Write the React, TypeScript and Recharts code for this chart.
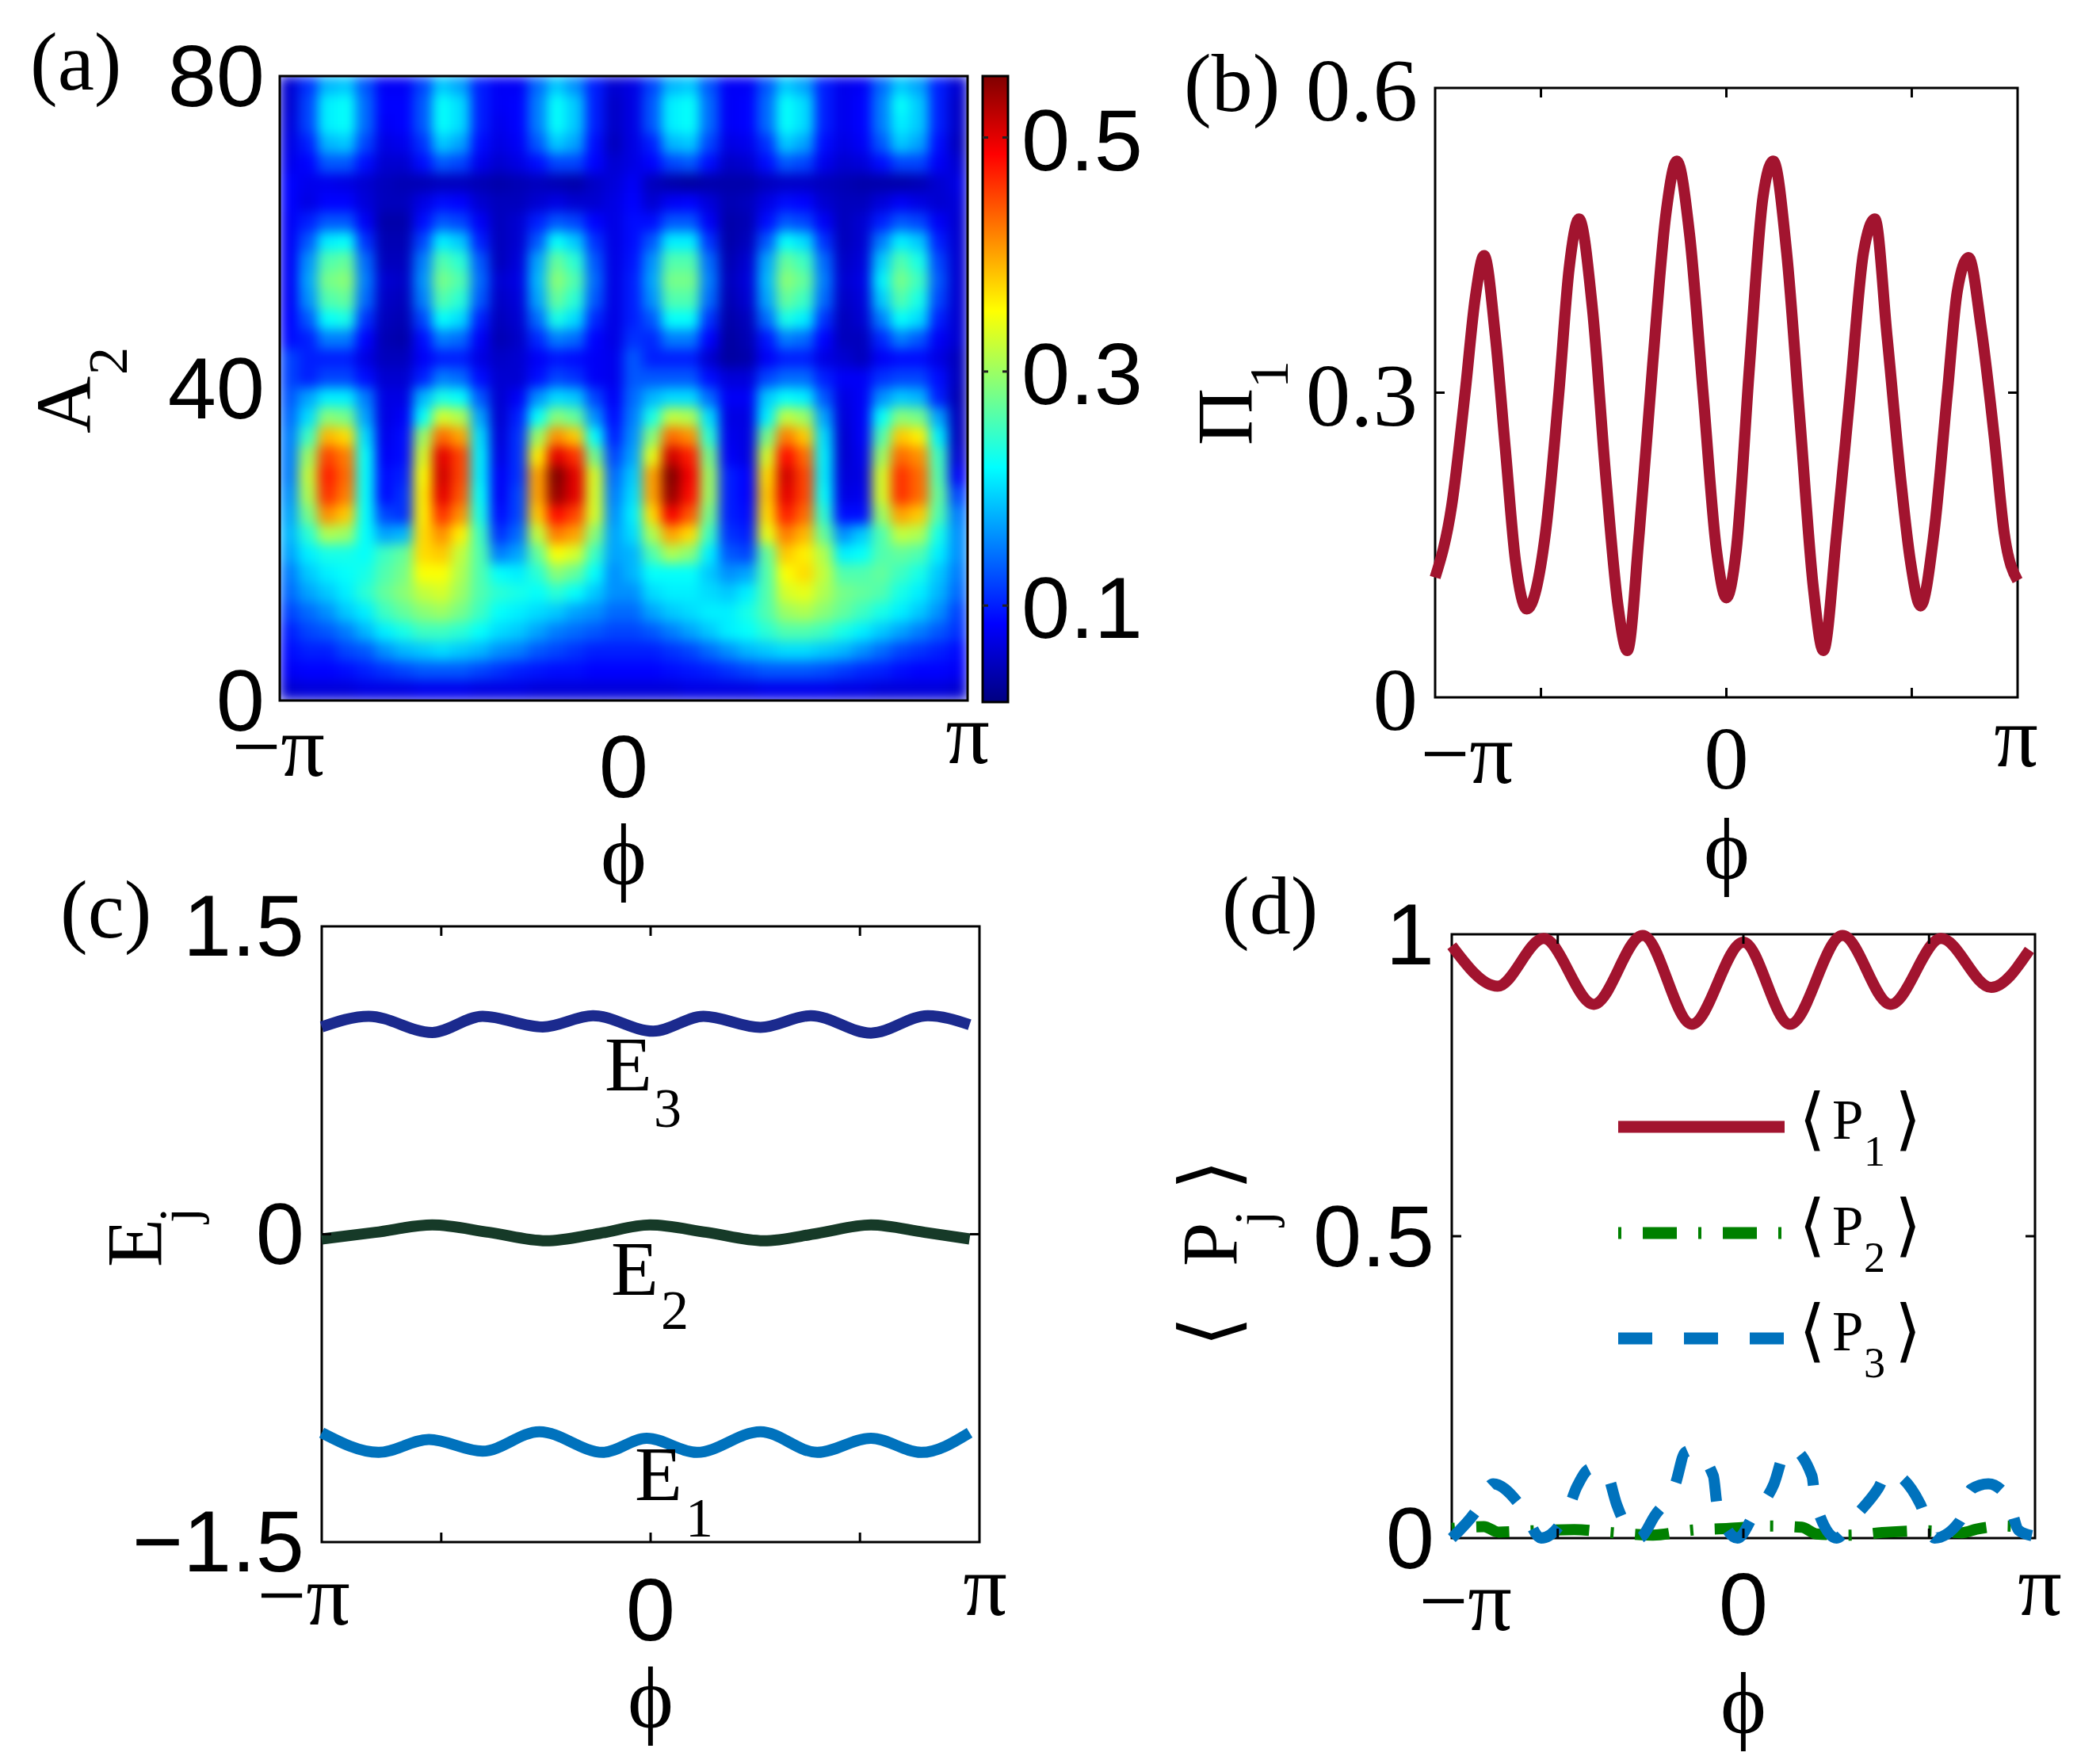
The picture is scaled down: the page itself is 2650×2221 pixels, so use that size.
import React from "react";
import { ScatterChart, Scatter, LineChart, Line, ComposedChart, Bar, XAxis, YAxis, ReferenceArea } from "recharts";

const W = 2650;
const H = 2221;
const SANS = '"Liberation Sans", Arial, Helvetica, sans-serif';
const SERIF = '"Liberation Serif", "Times New Roman", "DejaVu Serif", serif';
const GLYPH = '"DejaVu Serif", "DejaVu Sans", serif';
const INK = "#000";

// ---------- (a) heat map: A2 (0..80) vs phi (-pi..pi), values x100 ----------
const heatVmin = 0.0175;
const heatVmax = 0.5525;
const heatBarTicks = [0.1, 0.3, 0.5];
const heatA2Ticks = [0, 40, 80];
// 32 rows from A2 = 80 (top) down to 0, 36 columns from -pi to pi
const heatRowsPct: number[][] = [
  [6, 11, 18, 19, 13, 8, 8, 12, 19, 17, 10, 8, 8, 14, 19, 16, 10, 6, 7, 12, 18, 19, 13, 8, 8, 13, 19, 17, 10, 7.5, 8, 14, 19, 17, 10, 6],
  [6, 12, 21, 22, 14, 8.5, 8.5, 13, 22, 20, 10, 8, 8.5, 15, 22, 19, 10, 5.5, 7, 13, 21, 22, 14, 8, 8.5, 14, 22, 20, 10, 7.5, 8.5, 15, 22, 19, 10, 5.5],
  [6.5, 12, 21, 22, 14, 8, 8.5, 13, 22, 20, 10, 7.5, 8.5, 15, 22, 19, 10, 5.5, 7, 13, 21, 22, 14, 8, 8.5, 14, 22, 20, 10, 7.5, 8.5, 15, 21, 19, 10, 5.5],
  [7, 10, 18, 19, 12, 7, 7.5, 11, 19, 17, 9, 7, 8, 13, 19, 17, 9, 5, 7, 10, 18, 19, 12, 7, 7.5, 11, 19, 17, 9, 7, 8, 13, 19, 17, 9, 5],
  [7.5, 8.5, 13, 13, 9, 6, 6, 9, 13, 12, 7.5, 6, 7, 9, 12, 12, 8.5, 6, 7, 8.5, 12, 13, 9, 5.5, 6, 9, 13, 12, 7.5, 6, 6.5, 9, 12, 12, 8, 6],
  [8.5, 7.5, 7.5, 7, 6, 5, 4.5, 4.5, 5, 5, 4.5, 4, 4.5, 5, 4.5, 4, 5.5, 6.5, 8, 5, 4, 3.5, 4, 4, 4, 5, 5.5, 5.5, 5, 4.5, 4, 4, 4, 4.5, 6, 7],
  [8.5, 7, 8.5, 8.5, 6.5, 5, 5, 7, 9, 8.5, 6, 5, 5, 6, 7, 6, 6, 7, 8.5, 6, 8, 8.5, 6.5, 4.5, 5, 7, 9, 8.5, 6, 5, 5, 6.5, 8, 7, 6, 6.5],
  [8, 10, 13, 13, 8, 4, 4, 9, 13, 12, 8, 5, 6, 10, 13, 12, 8.5, 7, 9, 9, 13, 13, 8, 4, 4.5, 9, 13, 12, 8, 5, 6, 10, 13, 12, 8, 6],
  [8, 13, 21, 22, 11, 4.5, 4.5, 12, 21, 19, 10, 5, 6, 13, 22, 19, 11, 7, 9, 13, 21, 21, 11, 4, 5, 13, 22, 20, 11, 5, 6, 15, 21, 19, 10, 6],
  [8, 16, 26, 27, 14, 5, 5, 15, 26, 24, 13, 5, 6.5, 17, 27, 24, 13, 7, 9.5, 16, 26, 26, 14, 4.5, 6, 17, 27, 25, 14, 5.5, 6.5, 19, 26, 23, 12, 6],
  [8, 17, 28, 29, 15, 6, 5.5, 16, 28, 26, 14, 6, 7, 18, 29, 26, 14, 7, 10, 17, 28, 28, 15, 5, 6.5, 18, 29, 27, 15, 6, 7, 21, 28, 25, 13, 6],
  [8, 16, 26, 27, 14, 5.5, 5, 15, 26, 24, 13, 5.5, 6.5, 17, 27, 24, 13, 7, 10, 16, 26, 26, 14, 4.5, 6, 17, 27, 25, 14, 5.5, 6.5, 19, 26, 23, 12, 6],
  [8.5, 13, 22, 23, 11, 5, 4.5, 12, 22, 20, 10, 5, 6, 14, 23, 20, 10.5, 7, 10, 13, 22, 22, 11, 4, 5, 14, 23, 21, 11, 5, 6, 15, 22, 20, 10, 6],
  [9, 10, 15, 15, 8.5, 4.5, 4, 9, 15, 14, 8, 4.5, 5.5, 10.5, 15, 14, 8.5, 7, 11, 10.5, 15, 15, 8.5, 3.5, 4.5, 9.5, 15, 14, 8.5, 5, 5, 10.5, 15, 13, 8, 6],
  [12, 10, 10, 10, 7, 5, 5, 8, 10, 10, 7, 5.5, 6, 8, 9.5, 9, 8, 7.5, 13, 10, 10, 10, 6, 3.5, 4, 8, 10, 10, 7, 6, 5, 8, 9, 9, 7, 5],
  [12, 10, 12, 12, 9, 6, 6, 10, 15, 14, 9, 6, 6, 9, 12, 11, 8, 7.5, 13, 13, 13, 13, 9, 6.5, 6.5, 12, 14, 14, 10, 8, 8, 11, 12, 12, 9, 5],
  [13, 17, 21, 21, 15, 7, 7, 18, 23, 22, 13, 6, 8, 16, 20, 19, 12, 8, 14, 18, 20, 20, 14, 8, 8, 19, 22, 21, 13, 7, 8, 16, 19, 18, 10, 4.5],
  [14, 20, 29, 28, 17, 7, 8, 22, 33, 31, 17, 6, 10, 22, 29, 27, 16, 9, 15, 23, 32, 31, 20, 7, 7, 21, 32, 30, 17, 6.5, 8, 22, 29, 28, 17, 5],
  [15, 25, 39, 37, 20, 7.5, 9, 30, 43, 40, 20, 6.5, 11, 30, 41, 38, 22, 10, 16, 29, 43, 41, 24, 7.5, 7, 28, 42, 38, 20, 6, 8, 26, 38, 36, 21, 5],
  [15, 30, 45, 42, 22, 8, 9, 33, 50, 45, 21, 7, 11, 36, 50, 46, 28, 12, 17, 34, 51, 47, 28, 8, 7, 33, 48, 43, 21, 6, 7.5, 30, 43, 41, 25, 6],
  [15, 32, 47, 43, 22, 9, 10, 35, 51, 45, 21, 8, 11, 40, 55, 50, 33, 14, 19, 40, 55, 49, 30, 10, 8.5, 37, 51, 45, 21, 6.5, 7, 33, 46, 43, 26, 8],
  [16, 31, 46, 42, 22, 9, 11, 36, 50, 44, 22, 8, 12, 40, 54, 50, 33, 15, 20, 40, 54, 48, 30, 10, 8.5, 38, 50, 45, 22, 7, 7.5, 33, 46, 43, 27, 12],
  [17, 28, 41, 38, 22, 12, 11, 36, 46, 41, 23, 9, 12, 38, 48, 45, 33, 16, 21, 37, 49, 44, 28, 10, 9, 37, 47, 43, 24, 9, 9, 30, 40, 38, 26, 15],
  [18, 24, 31, 30, 22, 17, 18, 37, 41, 36, 25, 11, 14, 32, 42, 40, 29, 17, 20, 31, 40, 37, 25, 11, 10, 34, 42, 39, 27, 16, 19, 26, 32, 31, 23, 16],
  [17, 21, 23, 23, 22, 25, 27, 37, 38, 32, 26, 15, 17, 27, 35, 33, 25, 17, 18, 26, 31, 29, 21, 13, 12, 27, 38, 36, 31, 21, 22, 26, 27, 26, 21, 16],
  [15, 19, 21, 22, 23, 26, 28, 35, 35, 31, 26, 22, 21, 24, 29, 27, 22, 16, 18, 22, 22, 22, 19, 16, 17, 26, 35, 37, 32, 26, 26, 27, 25, 23, 19, 15],
  [14, 17, 19, 21, 24, 27, 29, 32, 33, 30, 26, 24, 23, 22, 24, 22, 19, 16, 16, 20, 21, 21, 20, 19, 21, 26, 33, 34, 31, 28, 27, 26, 23, 21, 18, 14],
  [12, 14, 16, 19, 21, 25, 27, 29, 30, 28, 25, 22, 21, 20, 19, 17, 16, 14, 14, 17, 19, 20, 21, 21, 23, 26, 30, 31, 29, 27, 25, 23, 21, 19, 16, 12],
  [10, 12, 13, 15, 18, 21, 23, 25, 25, 24, 22, 20, 19, 17, 15, 14, 13, 12, 12, 13, 15, 17, 19, 21, 22, 24, 26, 26, 25, 23, 21, 19, 17, 15, 13, 11],
  [9, 10, 10, 12, 13, 16, 18, 19, 20, 19, 18, 16, 15, 13, 12, 11, 10, 10, 10, 10, 11, 12, 14, 16, 18, 19, 20, 20, 19, 18, 16, 14, 12, 11, 10, 9],
  [8, 8.5, 8.5, 9, 10, 11, 12, 13, 13, 13, 12, 11, 10, 9.5, 9, 9, 8.5, 8.5, 8.5, 8.5, 9, 9.5, 10, 11, 12, 13, 13, 13, 12.5, 11.5, 10.5, 10, 9, 8.5, 8.5, 8],
  [6, 6.5, 6.5, 6.5, 7, 7, 7, 7.5, 7.5, 7.5, 7, 7, 7, 6.5, 6.5, 6.5, 6.5, 6.5, 6.5, 6.5, 6.5, 7, 7, 7, 7, 7.5, 7.5, 7.5, 7.5, 7, 7, 6.5, 6.5, 6.5, 6.5, 6],
];

// ---------- (b) Pi_1 vs phi (phi in units of pi) ----------
const piPhi = [-1, -0.943, -0.897, -0.862, -0.832, -0.793, -0.759, -0.724, -0.685, -0.621, -0.575, -0.54, -0.506, -0.46, -0.414, -0.372, -0.34, -0.299, -0.253, -0.207, -0.17, -0.126, -0.08, -0.034, 0, 0.034, 0.08, 0.126, 0.161, 0.207, 0.253, 0.299, 0.333, 0.379, 0.425, 0.471, 0.51, 0.552, 0.598, 0.632, 0.667, 0.713, 0.759, 0.793, 0.832, 0.874, 0.92, 0.954, 1];
const piVal = [0.118, 0.189, 0.3, 0.394, 0.435, 0.355, 0.245, 0.134, 0.087, 0.162, 0.3, 0.422, 0.471, 0.383, 0.217, 0.09, 0.046, 0.162, 0.328, 0.477, 0.528, 0.455, 0.3, 0.145, 0.098, 0.145, 0.328, 0.493, 0.528, 0.438, 0.272, 0.107, 0.046, 0.162, 0.3, 0.438, 0.471, 0.355, 0.217, 0.134, 0.09, 0.162, 0.3, 0.4, 0.433, 0.366, 0.256, 0.162, 0.115];

// ---------- (c) E_j vs phi ----------
const e3Phi = [-1, -0.857, -0.664, -0.511, -0.328, -0.175, 0.008, 0.161, 0.334, 0.487, 0.67, 0.843, 0.97];
const e3Val = [1.01, 1.062, 0.983, 1.062, 1.01, 1.065, 0.989, 1.062, 1.008, 1.065, 0.98, 1.065, 1.021];
const e2Phi = [-1, -0.837, -0.664, -0.491, -0.318, -0.155, -0.002, 0.171, 0.344, 0.507, 0.67, 0.833, 0.97];
const e2Val = [-0.023, 0.009, 0.045, 0.009, -0.032, 0.004, 0.045, 0.009, -0.032, 0.004, 0.045, 0.009, -0.023];
const e1Phi = [-1, -0.827, -0.674, -0.511, -0.338, -0.145, -0.012, 0.141, 0.334, 0.507, 0.67, 0.823, 0.97];
const e1Val = [-0.967, -1.063, -1.0, -1.057, -0.962, -1.063, -0.994, -1.063, -0.962, -1.063, -0.994, -1.063, -0.967];

// ---------- (d) <P_j> vs phi ----------
const p1Phi = [-1, -0.843, -0.685, -0.513, -0.345, -0.177, 0, 0.16, 0.34, 0.505, 0.678, 0.85, 0.981];
const p1Val = [0.981, 0.914, 0.993, 0.884, 0.998, 0.851, 0.987, 0.851, 0.998, 0.884, 0.993, 0.912, 0.974];
const p2Phi = [-1, -0.89, -0.84, -0.73, -0.58, -0.45, -0.31, -0.18, -0.05, 0.09, 0.2, 0.25, 0.36, 0.5, 0.63, 0.75, 0.8, 0.9, 0.98];
const p2Val = [0.016, 0.019, 0.01, 0.012, 0.014, 0.009, 0.005, 0.013, 0.016, 0.02, 0.018, 0.007, 0.005, 0.01, 0.012, 0.009, 0.015, 0.02, 0.016];
const p3Phi = [-1, -0.921, -0.858, -0.759, -0.694, -0.609, -0.571, -0.525, -0.486, -0.467, -0.434, -0.358, -0.304, -0.233, -0.2, -0.174, -0.103, -0.09, -0.02, 0.034, 0.105, 0.145, 0.164, 0.235, 0.248, 0.32, 0.378, 0.463, 0.495, 0.521, 0.606, 0.655, 0.742, 0.781, 0.84, 0.905, 0.944, 0.989];
const p3Val = [0, 0.042, 0.09, 0.05, 0, 0.038, 0.085, 0.115, 0.116, 0.107, 0.055, 0, 0.037, 0.09, 0.142, 0.146, 0.103, 0.055, 0, 0.037, 0.09, 0.145, 0.148, 0.103, 0.057, 0, 0.033, 0.083, 0.11, 0.107, 0.057, 0, 0.028, 0.081, 0.09, 0.068, 0.013, 0.004];

const phiTicks = [-1, -2 / Math.PI, 0, 2 / Math.PI, 1];

type Box = { left: number; top: number; right: number; bottom: number };
const boxA: Box = { left: 353, top: 96, right: 1221, bottom: 884 };
const boxBar: Box = { left: 1240, top: 96, right: 1272, bottom: 886 };
const boxB: Box = { left: 1811, top: 111, right: 2546, bottom: 880 };
const boxC: Box = { left: 406, top: 1169, right: 1236, bottom: 1946 };
const boxD: Box = { left: 1832, top: 1179, right: 2568, bottom: 1941 };
// axes are 1px thick (a zero sized axis is not drawn), so margins give back that pixel
const marginOf = (b: Box) => ({ left: b.left - 1, top: b.top, right: W - b.right, bottom: H - b.bottom - 1 });

const zip = (phi: number[], val: number[]) => phi.map((p, i) => ({ phi: p, v: val[i] }));

const HEAT_ROWS = heatRowsPct.length;
const HEAT_COLS = heatRowsPct[0].length;
const heatData = heatRowsPct.flatMap((row, r) =>
  row.map((pct, c) => ({
    phi: -1 + ((c + 0.5) * 2) / HEAT_COLS,
    a2: 80 - ((r + 0.5) * 80) / HEAT_ROWS,
    value: pct / 100,
  }))
);
const cellW = (boxA.right - boxA.left) / HEAT_COLS;
const cellH = (boxA.bottom - boxA.top) / HEAT_ROWS;

function jet(v: number) {
  const t = Math.min(1, Math.max(0, (v - heatVmin) / (heatVmax - heatVmin)));
  const ch = (k: number) => Math.round(255 * Math.min(1, Math.max(0, 1.5 - Math.abs(4 * t - k))));
  return `rgb(${ch(3)},${ch(2)},${ch(1)})`;
}

const HeatCell = (props: any) => {
  const { cx, cy, payload } = props;
  return (
    <rect
      x={cx - cellW / 2 - 0.6}
      y={cy - cellH / 2 - 0.6}
      width={cellW + 1.2}
      height={cellH + 1.2}
      fill={jet(payload.value)}
    />
  );
};

const seriesC = [
  { key: "E3", data: zip(e3Phi, e3Val), color: "#1B2A8E" },
  { key: "E2", data: zip(e2Phi, e2Val), color: "#163A28" },
  { key: "E1", data: zip(e1Phi, e1Val), color: "#0072BD" },
];
const seriesD = [
  { key: "P1", sub: "1", data: zip(p1Phi, p1Val), color: "#A2142F", dash: undefined as string | undefined },
  { key: "P2", sub: "2", data: zip(p2Phi, p2Val), color: "#008000", dash: "4 27 43 27" },
  { key: "P3", sub: "3", data: zip(p3Phi, p3Val), color: "#0072BD", dash: "43 40" },
];

type Lab = { at: number; text: string; font: string; size: number; dx: number; dy: number };
const near = (a: number, b: number) => Math.abs(a - b) < 1e-6;

function makeBottomTick(box: Box, labels: Lab[], marks: number[]) {
  const h = box.bottom - box.top;
  return (props: any) => {
    const { x, y, payload } = props;
    const v = payload?.value;
    const lab = labels.find((l) => near(l.at, v));
    const mark = marks.some((m) => near(m, v));
    return (
      <g>
        {mark && <line x1={x} x2={x} y1={y} y2={y - 12} stroke={INK} strokeWidth={3} />}
        {mark && <line x1={x} x2={x} y1={y - h} y2={y - h + 12} stroke={INK} strokeWidth={3} />}
        {lab && (
          <text x={x + lab.dx} y={y + lab.dy} textAnchor="middle" fontFamily={lab.font} fontSize={lab.size} fill={INK}>
            {lab.text}
          </text>
        )}
      </g>
    );
  };
}

function makeLeftTick(box: Box, labels: { at: number; text: string }[], font: string, size: number, gap: number, dy: number, marks: number[]) {
  const w = box.right - box.left;
  return (props: any) => {
    const { x, y, payload } = props;
    const v = payload?.value;
    const lab = labels.find((l) => near(l.at, v));
    const mark = marks.some((m) => near(m, v));
    return (
      <g>
        {mark && <line x1={x} x2={x + 12} y1={y} y2={y} stroke={INK} strokeWidth={3} />}
        {mark && <line x1={x + w} x2={x + w - 12} y1={y} y2={y} stroke={INK} strokeWidth={3} />}
        {lab && (
          <text x={x - gap} y={y + dy} textAnchor="end" fontFamily={font} fontSize={size} fill={INK}>
            {lab.text}
          </text>
        )}
      </g>
    );
  };
}

const BarTick = (props: any) => {
  const { x, y, payload } = props;
  const w = boxBar.right - boxBar.left;
  return (
    <g>
      <line x1={x} x2={x - 7} y1={y} y2={y} stroke="#222" strokeWidth={3} />
      <line x1={x - w} x2={x - w + 7} y1={y} y2={y} stroke="#222" strokeWidth={3} />
      <text x={x + 17} y={y + 41} textAnchor="start" fontFamily={SANS} fontSize={110} fill={INK}>
        {String(payload.value)}
      </text>
    </g>
  );
};

const PI_MARKS = [-2 / Math.PI, 0, 2 / Math.PI];

const tickA = makeBottomTick(boxA, [
  { at: -1, text: "−π", font: SERIF, size: 110, dx: -2, dy: 95 },
  { at: 0, text: "0", font: SANS, size: 112, dx: 0, dy: 122 },
  { at: 1, text: "π", font: SERIF, size: 110, dx: 0, dy: 79 },
], []);
const tickB = makeBottomTick(boxB, [
  { at: -1, text: "−π", font: SERIF, size: 110, dx: 40, dy: 108 },
  { at: 0, text: "0", font: SERIF, size: 113, dx: 0, dy: 115 },
  { at: 1, text: "π", font: SERIF, size: 110, dx: -2, dy: 87 },
], PI_MARKS);
const tickC = makeBottomTick(boxC, [
  { at: -1, text: "−π", font: SERIF, size: 110, dx: -23, dy: 104 },
  { at: 0, text: "0", font: SANS, size: 112, dx: 0, dy: 124 },
  { at: 1, text: "π", font: SERIF, size: 110, dx: 7, dy: 92 },
], PI_MARKS);
const tickD = makeBottomTick(boxD, [
  { at: -1, text: "−π", font: SERIF, size: 110, dx: 17, dy: 116 },
  { at: 0, text: "0", font: SANS, size: 112, dx: 0, dy: 122 },
  { at: 1, text: "π", font: SERIF, size: 110, dx: 6, dy: 97 },
], PI_MARKS);

const yTickA = makeLeftTick(boxA, [{ at: 0, text: "0" }, { at: 40, text: "40" }, { at: 80, text: "80" }], SANS, 110, 19, 38, []);
const yTickB = makeLeftTick(boxB, [{ at: 0, text: "0" }, { at: 0.3, text: "0.3" }, { at: 0.6, text: "0.6" }], SERIF, 113, 22, 41, [0.3]);
const yTickC = makeLeftTick(boxC, [{ at: -1.5, text: "−1.5" }, { at: 0, text: "0" }, { at: 1.5, text: "1.5" }], SANS, 110, 22, 37, [0]);
const yTickD = makeLeftTick(boxD, [{ at: 0, text: "0" }, { at: 0.5, text: "0.5" }, { at: 1, text: "1" }], SANS, 110, 22, 38, [0.5]);

const layer: React.CSSProperties = { position: "absolute", left: 0, top: 0 };
const frame = { fill: "none", stroke: INK, strokeWidth: 3 };
const axisCommon = { interval: 0 as const, tickSize: 0, tickMargin: 0, axisLine: false, tickLine: false };

function RotLabel({ x, y, parts }: { x: number; y: number; parts: { t: string; at: number; sub?: boolean; font?: string }[] }) {
  return (
    <text transform={`translate(${x},${y}) rotate(-90)`} fill={INK}>
      {parts.map((p, i) => (
        <tspan key={i} x={p.at} y={p.sub ? 46 : 0} fontSize={p.sub ? 70 : 100} fontFamily={p.font ?? SERIF}>
          {p.t}
        </tspan>
      ))}
    </text>
  );
}

function SubLabel({ x, y, main, sub, sx, sy }: { x: number; y: number; main: string; sub: string; sx: number; sy: number }) {
  return (
    <text fill={INK} fontFamily={SERIF}>
      <tspan x={x} y={y} fontSize={98}>{main}</tspan>
      <tspan x={sx} y={sy} fontSize={70}>{sub}</tspan>
    </text>
  );
}

const legendLineY = [1422, 1556, 1689];
const legendTextY = [1437, 1571, 1704];

export default function App() {
  const barStops = [0, 0.125, 0.375, 0.625, 0.875, 1];
  return (
    <div style={{ position: "absolute", left: 0, top: 0, width: W, height: H, background: "#fff", overflow: "hidden" }}>
      <style>{`.heat-chart .recharts-scatter { filter: url(#heatBlur); }`}</style>
      <svg width={1} height={1} style={{ position: "absolute", left: 0, top: 0 }}>
        <defs>
          <linearGradient id="jetBar" x1="0" y1="1" x2="0" y2="0">
            {barStops.map((t) => (
              <stop key={t} offset={t} stopColor={jet(heatVmin + t * (heatVmax - heatVmin))} />
            ))}
          </linearGradient>
          <filter id="heatBlur" x="0" y="0" width="1" height="1" colorInterpolationFilters="sRGB">
            <feGaussianBlur stdDeviation={7.5} edgeMode="duplicate" />
          </filter>
        </defs>
      </svg>

      {/* (a) heat map */}
      <div style={layer} className="heat-chart">
        <ScatterChart width={W} height={H} margin={marginOf(boxA)}>
          <XAxis type="number" dataKey="phi" domain={[-1, 1]} ticks={[-1, 0, 1]} height={1} {...axisCommon} tick={tickA} />
          <YAxis type="number" dataKey="a2" domain={[0, 80]} ticks={heatA2Ticks} width={1} {...axisCommon} tick={yTickA} />
          <Scatter data={heatData} shape={HeatCell} isAnimationActive={false} />
        </ScatterChart>
      </div>

      {/* (a) colour bar */}
      <div style={layer}>
        <ComposedChart
          width={W}
          height={H}
          margin={{ left: boxBar.left, top: boxBar.top, right: W - boxBar.right - 1, bottom: H - boxBar.bottom }}
          data={[{ name: "scale", top: heatVmax }]}
          barCategoryGap={0}
        >
          <XAxis type="category" dataKey="name" hide />
          <YAxis type="number" orientation="right" domain={[heatVmin, heatVmax]} ticks={heatBarTicks} width={1} {...axisCommon} tick={BarTick} />
          <Bar dataKey="top" fill="url(#jetBar)" stroke={INK} strokeWidth={3} isAnimationActive={false} />
        </ComposedChart>
      </div>

      {/* (b) Pi_1 */}
      <div style={layer}>
        <LineChart width={W} height={H} margin={marginOf(boxB)}>
          <XAxis type="number" dataKey="phi" domain={[-1, 1]} ticks={phiTicks} height={1} {...axisCommon} tick={tickB} />
          <YAxis type="number" domain={[0, 0.6]} ticks={[0, 0.3, 0.6]} width={1} {...axisCommon} tick={yTickB} />
          <ReferenceArea x1={-1} x2={1} y1={0} y2={0.6} {...frame} />
          <Line data={zip(piPhi, piVal)} dataKey="v" type="monotone" stroke="#A2142F" strokeWidth={14} strokeLinejoin="round" dot={false} activeDot={false} isAnimationActive={false} />
        </LineChart>
      </div>

      {/* (c) E_j */}
      <div style={layer}>
        <LineChart width={W} height={H} margin={marginOf(boxC)}>
          <XAxis type="number" dataKey="phi" domain={[-1, 1]} ticks={phiTicks} height={1} {...axisCommon} tick={tickC} />
          <YAxis type="number" domain={[-1.5, 1.5]} ticks={[-1.5, 0, 1.5]} width={1} {...axisCommon} tick={yTickC} />
          <ReferenceArea x1={-1} x2={1} y1={-1.5} y2={1.5} {...frame} />
          {seriesC.map((s) => (
            <Line key={s.key} data={s.data} dataKey="v" type="monotone" stroke={s.color} strokeWidth={14} strokeLinejoin="round" dot={false} activeDot={false} isAnimationActive={false} />
          ))}
        </LineChart>
      </div>

      {/* (d) <P_j> */}
      <div style={layer}>
        <LineChart width={W} height={H} margin={marginOf(boxD)}>
          <XAxis type="number" dataKey="phi" domain={[-1, 1]} ticks={phiTicks} height={1} {...axisCommon} tick={tickD} />
          <YAxis type="number" domain={[0, 1]} ticks={[0, 0.5, 1]} width={1} {...axisCommon} tick={yTickD} />
          <ReferenceArea x1={-1} x2={1} y1={0} y2={1} {...frame} />
          {seriesD.map((s) => (
            <Line key={s.key} data={s.data} dataKey="v" type="monotone" stroke={s.color} strokeWidth={14} strokeDasharray={s.dash} strokeLinejoin="round" dot={false} activeDot={false} isAnimationActive={false} />
          ))}
        </LineChart>
      </div>

      {/* labels, heat-map box and legend */}
      <svg width={W} height={H} style={layer}>
        <rect x={boxA.left} y={boxA.top} width={boxA.right - boxA.left} height={boxA.bottom - boxA.top} fill="none" stroke={INK} strokeWidth={3} />
        <g fontFamily={SERIF} fontSize={104} fill={INK}>
          <text x={38} y={113}>(a)</text>
          <text x={1494} y={140}>(b)</text>
          <text x={76} y={1183}>(c)</text>
          <text x={1542} y={1178}>(d)</text>
        </g>
        <g fontFamily={SERIF} fontSize={110} fill={INK} textAnchor="middle">
          <text x={787} y={1116}>ϕ</text>
          <text x={2179} y={1109}>ϕ</text>
          <text x={821} y={2180}>ϕ</text>
          <text x={2200} y={2187}>ϕ</text>
        </g>
        <RotLabel x={114} y={547} parts={[{ t: "A", at: 0 }, { t: "2", at: 74, sub: true }]} />
        <RotLabel x={1579} y={562} parts={[{ t: "Π", at: 0 }, { t: "1", at: 72, sub: true }]} />
        <RotLabel x={203} y={1599} parts={[{ t: "E", at: 0 }, { t: "j", at: 56, sub: true }]} />
        <RotLabel
          x={1560}
          y={1700}
          parts={[
            { t: "⟨", at: 0, font: GLYPH },
            { t: "P", at: 102 },
            { t: "j", at: 153, sub: true },
            { t: "⟩", at: 198, font: GLYPH },
          ]}
        />
        <SubLabel x={763} y={1376} main="E" sub="3" sx={825} sy={1422} />
        <SubLabel x={771} y={1634} main="E" sub="2" sx={834} sy={1677} />
        <SubLabel x={801} y={1893} main="E" sub="1" sx={865} sy={1939} />

        {seriesD.map((s, i) => (
          <g key={s.key}>
            <line x1={2042} x2={2252} y1={legendLineY[i]} y2={legendLineY[i]} stroke={s.color} strokeWidth={15} strokeDasharray={s.dash} />
            <text fill={INK} fontFamily={SERIF}>
              <tspan x={2270} y={legendTextY[i] + 4} fontSize={86} fontFamily={GLYPH}>⟨</tspan>
              <tspan x={2312} y={legendTextY[i]} fontSize={71}>P</tspan>
              <tspan x={2352} y={legendTextY[i] + 34} fontSize={54}>{s.sub}</tspan>
              <tspan x={2391} y={legendTextY[i] + 4} fontSize={86} fontFamily={GLYPH}>⟩</tspan>
            </text>
          </g>
        ))}
      </svg>
    </div>
  );
}
